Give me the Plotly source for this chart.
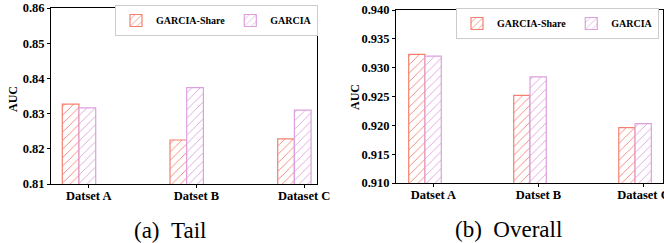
import plotly.graph_objects as go

categories = ["Datset A", "Datset B", "Dataset C"]
tail_share = [0.8327, 0.8225, 0.8228]
tail_garcia = [0.8316, 0.8374, 0.8310]
overall_share = [0.9323, 0.9252, 0.9196]
overall_garcia = [0.9320, 0.9284, 0.9203]
tail_ticks = [0.81, 0.82, 0.83, 0.84, 0.85, 0.86]
overall_ticks = [0.910, 0.915, 0.920, 0.925, 0.930, 0.935, 0.940]
series_names = ["GARCIA-Share", "GARCIA"]

RED = "#F4806F"
VIO = "#DDA0DD"
FONT = "Liberation Serif"
W = 0.155
pos = list(range(len(categories)))

fig = go.Figure()

def add_bars(vals, name, color, offset, xa, ya, legend, show):
    fig.add_trace(go.Bar(
        x=pos, y=vals, name=name, width=W, offset=offset,
        xaxis=xa, yaxis=ya, legend=legend, showlegend=show,
        marker=dict(color="white", line=dict(color=color, width=1.2),
                    pattern=dict(shape="/", fgcolor=color, bgcolor="white",
                                 size=6, solidity=0.15, fillmode="replace")),
    ))

add_bars(tail_share, series_names[0], RED, -W, "x", "y", "legend", True)
add_bars(tail_garcia, series_names[1], VIO, 0, "x", "y", "legend", True)
add_bars(overall_share, series_names[0], RED, -W, "x2", "y2", "legend2", True)
add_bars(overall_garcia, series_names[1], VIO, 0, "x2", "y2", "legend2", True)

tickfont = dict(family=FONT, size=12.5, color="black", weight="bold")
axis_common = dict(showline=True, linecolor="black", linewidth=1, mirror=True,
                   ticks="outside", ticklen=3, tickcolor="black", showgrid=False,
                   zeroline=False, automargin=False, tickfont=tickfont,
                   ticklabeloverflow="allow")

legend_common = dict(orientation="h", yanchor="top", xanchor="right",
                     bordercolor="#CCCCCC", borderwidth=1, bgcolor="white",
                     font=dict(family=FONT, size=10, color="black", weight="bold"),
                     itemwidth=30, tracegroupgap=0)

cap_font = dict(family=FONT, size=23, color="black")
auc_font = dict(family=FONT, size=12, color="black", weight="bold")

fig.update_layout(
    width=664, height=243,
    margin=dict(l=0, r=0, t=0, b=0),
    paper_bgcolor="white", plot_bgcolor="white",
    barmode="overlay",
    xaxis=dict(domain=[51/664, 317/664], range=[-0.26, 2.21],
               tickvals=[p + 0.09 for p in pos], ticktext=categories,
               ticklabelstandoff=-3, **axis_common),
    yaxis=dict(domain=[59/243, 235/243], range=[0.81, 0.86],
               tickvals=tail_ticks, tickformat=".2f", **axis_common),
    xaxis2=dict(domain=[396/664, 663/664], range=[-0.276, 2.266], anchor="y2",
                tickvals=[p + 0.08 for p in pos], ticktext=categories,
                ticklabelstandoff=-3, **axis_common),
    yaxis2=dict(domain=[60/243, 233/243], range=[0.910, 0.940], anchor="x2",
                tickvals=overall_ticks, tickformat=".3f", **axis_common),
    legend=dict(x=318/664, y=(243-5)/243, **legend_common),
    legend2=dict(x=659/664, y=(243-8)/243, **legend_common),
    annotations=[
        dict(text="AUC", x=13/664, y=1-99/243, xref="paper", yref="paper", textangle=-90,
             xanchor="center", yanchor="middle", showarrow=False, font=auc_font),
        dict(text="AUC", x=355/664, y=1-97/243, xref="paper", yref="paper", textangle=-90,
             xanchor="center", yanchor="middle", showarrow=False, font=auc_font),
        dict(text="(a)\u00a0\u00a0Tail", x=170/664, y=1-230/243, xref="paper", yref="paper",
             xanchor="center", yanchor="middle", showarrow=False, font=cap_font),
        dict(text="(b)\u00a0\u00a0Overall", x=508/664, y=1-229/243, xref="paper", yref="paper",
             xanchor="center", yanchor="middle", showarrow=False, font=cap_font),
    ],
)

fig.write_html("out.html", config={"displayModeBar": False},
               post_script="document.body.style.margin='0';document.body.style.overflow='hidden';")
